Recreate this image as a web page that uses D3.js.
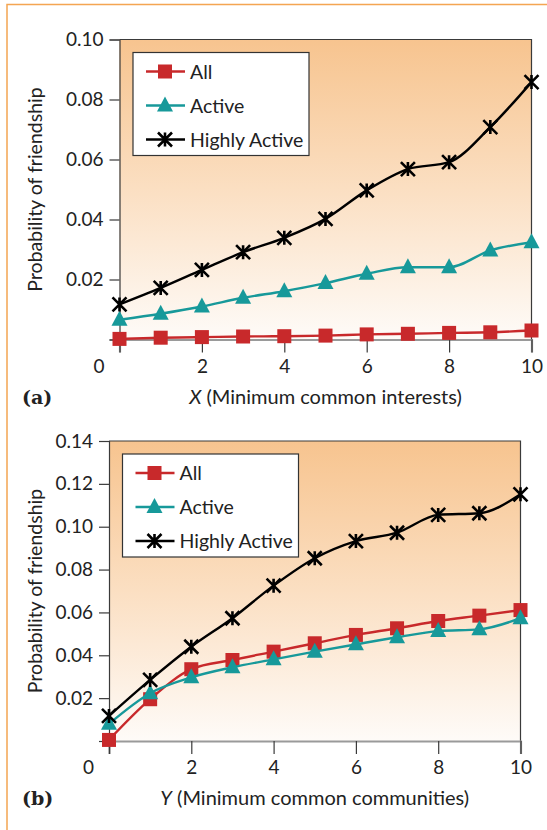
<!DOCTYPE html>
<html>
<head>
<meta charset="utf-8">
<script src="https://cdn.jsdelivr.net/npm/d3@7"></script>
<style>
  body { margin: 0; background: #fff; }
  svg { display: block; font-family: Lato, "Open Sans", sans-serif; }
</style>
</head>
<body>
<div id="chart"></div>
<script>
// Data
const xValues = [0, 1, 2, 3, 4, 5, 6, 7, 8, 9, 10];
const xTicks = [0, 2, 4, 6, 8, 10];
const seriesNames = ["All", "Active", "Highly Active"];

// (a) minimum common interests
const interestsAll    = [0.0002, 0.0006, 0.0008, 0.0010, 0.0011, 0.0013, 0.0017, 0.0019, 0.0022, 0.0024, 0.0030];
const interestsActive = [0.0066, 0.0086, 0.0110, 0.0139, 0.0161, 0.0188, 0.0219, 0.0241, 0.0241, 0.0297, 0.0324];
const interestsHigh   = [0.0117, 0.0172, 0.0232, 0.0291, 0.0339, 0.0402, 0.0497, 0.0568, 0.0591, 0.0708, 0.0858];
const interestsYTicks = [0.02, 0.04, 0.06, 0.08, 0.10];

// (b) minimum common communities
const communitiesAll    = [0.0005, 0.0195, 0.0335, 0.0378, 0.0417, 0.0456, 0.0495, 0.0526, 0.0560, 0.0585, 0.0611];
const communitiesActive = [0.0080, 0.0223, 0.0297, 0.0344, 0.0381, 0.0417, 0.0451, 0.0484, 0.0513, 0.0521, 0.0573];
const communitiesHigh   = [0.0117, 0.0285, 0.0440, 0.0573, 0.0725, 0.0853, 0.0933, 0.0972, 0.1055, 0.1063, 0.1151];
const communitiesYTicks = [0.02, 0.04, 0.06, 0.08, 0.10, 0.12, 0.14];

const colors = { "All": "#c8292b", "Active": "#17999a", "Highly Active": "#000000" };

const W = 547, H = 830;
const svg = d3.select("#chart").append("svg")
    .attr("width", W)
    .attr("height", H);

// background gradient for the plot areas
const defs = svg.append("defs");
const grad = defs.append("linearGradient")
    .attr("id", "bg")
    .attr("x1", 0).attr("y1", 0).attr("x2", 0).attr("y2", 1);
grad.append("stop").attr("offset", "0%").attr("stop-color", "#f7c48f");
grad.append("stop").attr("offset", "50%").attr("stop-color", "#fbdfc2");
grad.append("stop").attr("offset", "100%").attr("stop-color", "#fefbf8");

// orange frame (top and left edges)
svg.append("path")
    .attr("d", `M7,${H} L7,4.5 L${W},4.5`)
    .attr("fill", "none")
    .attr("stroke", "#f4a552")
    .attr("stroke-width", 1.5);

// draw a marker symbol into a group
function drawMarker(g, name, cx, cy) {
    if (name === "All") {
        g.append("rect")
            .attr("x", cx - 7).attr("y", cy - 7)
            .attr("width", 14).attr("height", 14)
            .attr("fill", colors[name]);
    } else if (name === "Active") {
        g.append("path")
            .attr("d", `M${cx},${cy - 9} L${cx + 8},${cy + 6} L${cx - 8},${cy + 6} Z`)
            .attr("fill", colors[name]);
    } else {
        const r = 7;
        g.append("path")
            .attr("d", `M${cx - r},${cy - r} L${cx + r},${cy + r} M${cx + r},${cy - r} L${cx - r},${cy + r} M${cx},${cy - r} L${cx},${cy + r}`)
            .attr("stroke", colors[name])
            .attr("stroke-width", 2.6)
            .attr("fill", "none");
    }
}

function drawPanel(cfg) {
    const x = d3.scaleLinear().domain([0, 10]).range([cfg.left, cfg.right]);
    const y = d3.scaleLinear().domain([0, cfg.yMax]).range([cfg.bottom, cfg.top]);

    // plot background
    svg.append("rect")
        .attr("x", cfg.left).attr("y", cfg.top)
        .attr("width", cfg.right - cfg.left)
        .attr("height", cfg.bottom - cfg.top)
        .attr("fill", "url(#bg)");

    // frame: top and right edges
    svg.append("path")
        .attr("d", `M${cfg.left},${cfg.top} L${cfg.right},${cfg.top} L${cfg.right},${cfg.bottom}`)
        .attr("fill", "none")
        .attr("stroke", "#3a3a3a")
        .attr("stroke-width", 1.2);

    // y axis
    const yAxis = svg.append("g")
        .attr("transform", `translate(${cfg.left},0)`)
        .call(d3.axisLeft(y)
            .tickValues([0].concat(cfg.yTicks))
            .tickSize(10)
            .tickPadding(6)
            .tickFormat(d => d === 0 ? "" : d3.format(".2f")(d)));
    yAxis.select(".domain").attr("stroke", "#3a3a3a").attr("stroke-width", 1.2);
    yAxis.selectAll(".tick line").attr("stroke", "#3a3a3a").attr("stroke-width", 1.2);
    yAxis.selectAll("text")
        .attr("font-size", 19)
        .attr("font-family", "Lato, sans-serif")
        .attr("fill", "#222");

    // x axis
    const xAxis = svg.append("g")
        .attr("transform", `translate(0,${cfg.bottom})`)
        .call(d3.axisBottom(x)
            .tickValues(xTicks)
            .tickSize(13)
            .tickPadding(7));
    xAxis.select(".domain").attr("stroke", "#9a9a9a").attr("stroke-width", 2.2);
    xAxis.selectAll(".tick line").attr("stroke", "#3a3a3a").attr("stroke-width", 1.2);
    xAxis.selectAll("text")
        .attr("font-size", 19)
        .attr("font-family", "Lato, sans-serif")
        .attr("fill", "#222")
        .attr("dx", d => d === 0 ? -21 : 0);

    // series
    const line = d3.line()
        .x((d, i) => x(xValues[i]))
        .y(d => y(d))
        .curve(d3.curveMonotoneX);

    cfg.series.forEach((vals, k) => {
        const name = seriesNames[k];
        svg.append("path")
            .datum(vals)
            .attr("fill", "none")
            .attr("stroke", colors[name])
            .attr("stroke-width", 2.4)
            .attr("d", line);
        const g = svg.append("g");
        vals.forEach((v, i) => drawMarker(g, name, x(xValues[i]), y(v)));
    });

    // legend
    const lg = svg.append("g")
        .attr("transform", `translate(${cfg.left + 13.5},${cfg.top + 13})`);
    lg.append("rect")
        .attr("width", 176).attr("height", 103)
        .attr("fill", "#fff")
        .attr("stroke", "#333")
        .attr("stroke-width", 1.2);
    seriesNames.forEach((name, i) => {
        const cy = 19 + i * 34;
        lg.append("line")
            .attr("x1", 13).attr("x2", 52)
            .attr("y1", cy).attr("y2", cy)
            .attr("stroke", colors[name])
            .attr("stroke-width", 2.4);
        drawMarker(lg, name, 32, cy);
        lg.append("text")
            .attr("x", 57).attr("y", cy)
            .attr("dy", "0.36em")
            .attr("font-size", 19.5)
            .attr("fill", "#222")
            .text(name);
    });

    // y-axis title
    svg.append("text")
        .attr("transform", `translate(42,${(cfg.top + cfg.bottom) / 2}) rotate(-90)`)
        .attr("text-anchor", "middle")
        .attr("font-size", 19.5)
        .attr("fill", "#222")
        .text("Probability of friendship");

    // x-axis title
    const xt = svg.append("text")
        .attr("x", (cfg.left + cfg.right) / 2)
        .attr("y", cfg.bottom + 64)
        .attr("text-anchor", "middle")
        .attr("font-size", 20)
        .attr("fill", "#222");
    xt.append("tspan").attr("font-style", "italic").text(cfg.varName);
    xt.append("tspan").text(" " + cfg.xTitle);

    // panel letter
    svg.append("text")
        .attr("x", 22)
        .attr("y", cfg.bottom + 64)
        .attr("font-size", 19)
        .attr("font-weight", "bold")
        .attr("font-family", "'DejaVu Serif', serif")
        .attr("fill", "#222")
        .text(cfg.letter);
}

drawPanel({
    left: 119.5, right: 531.5, top: 39.5, bottom: 339.5,
    yMax: 0.10, yTicks: interestsYTicks,
    series: [interestsAll, interestsActive, interestsHigh],
    varName: "X", xTitle: "(Minimum common interests)", letter: "(a)"
});

drawPanel({
    left: 109, right: 520.5, top: 441, bottom: 741,
    yMax: 0.14, yTicks: communitiesYTicks,
    series: [communitiesAll, communitiesActive, communitiesHigh],
    varName: "Y", xTitle: "(Minimum common communities)", letter: "(b)"
});
</script>
</body>
</html>
